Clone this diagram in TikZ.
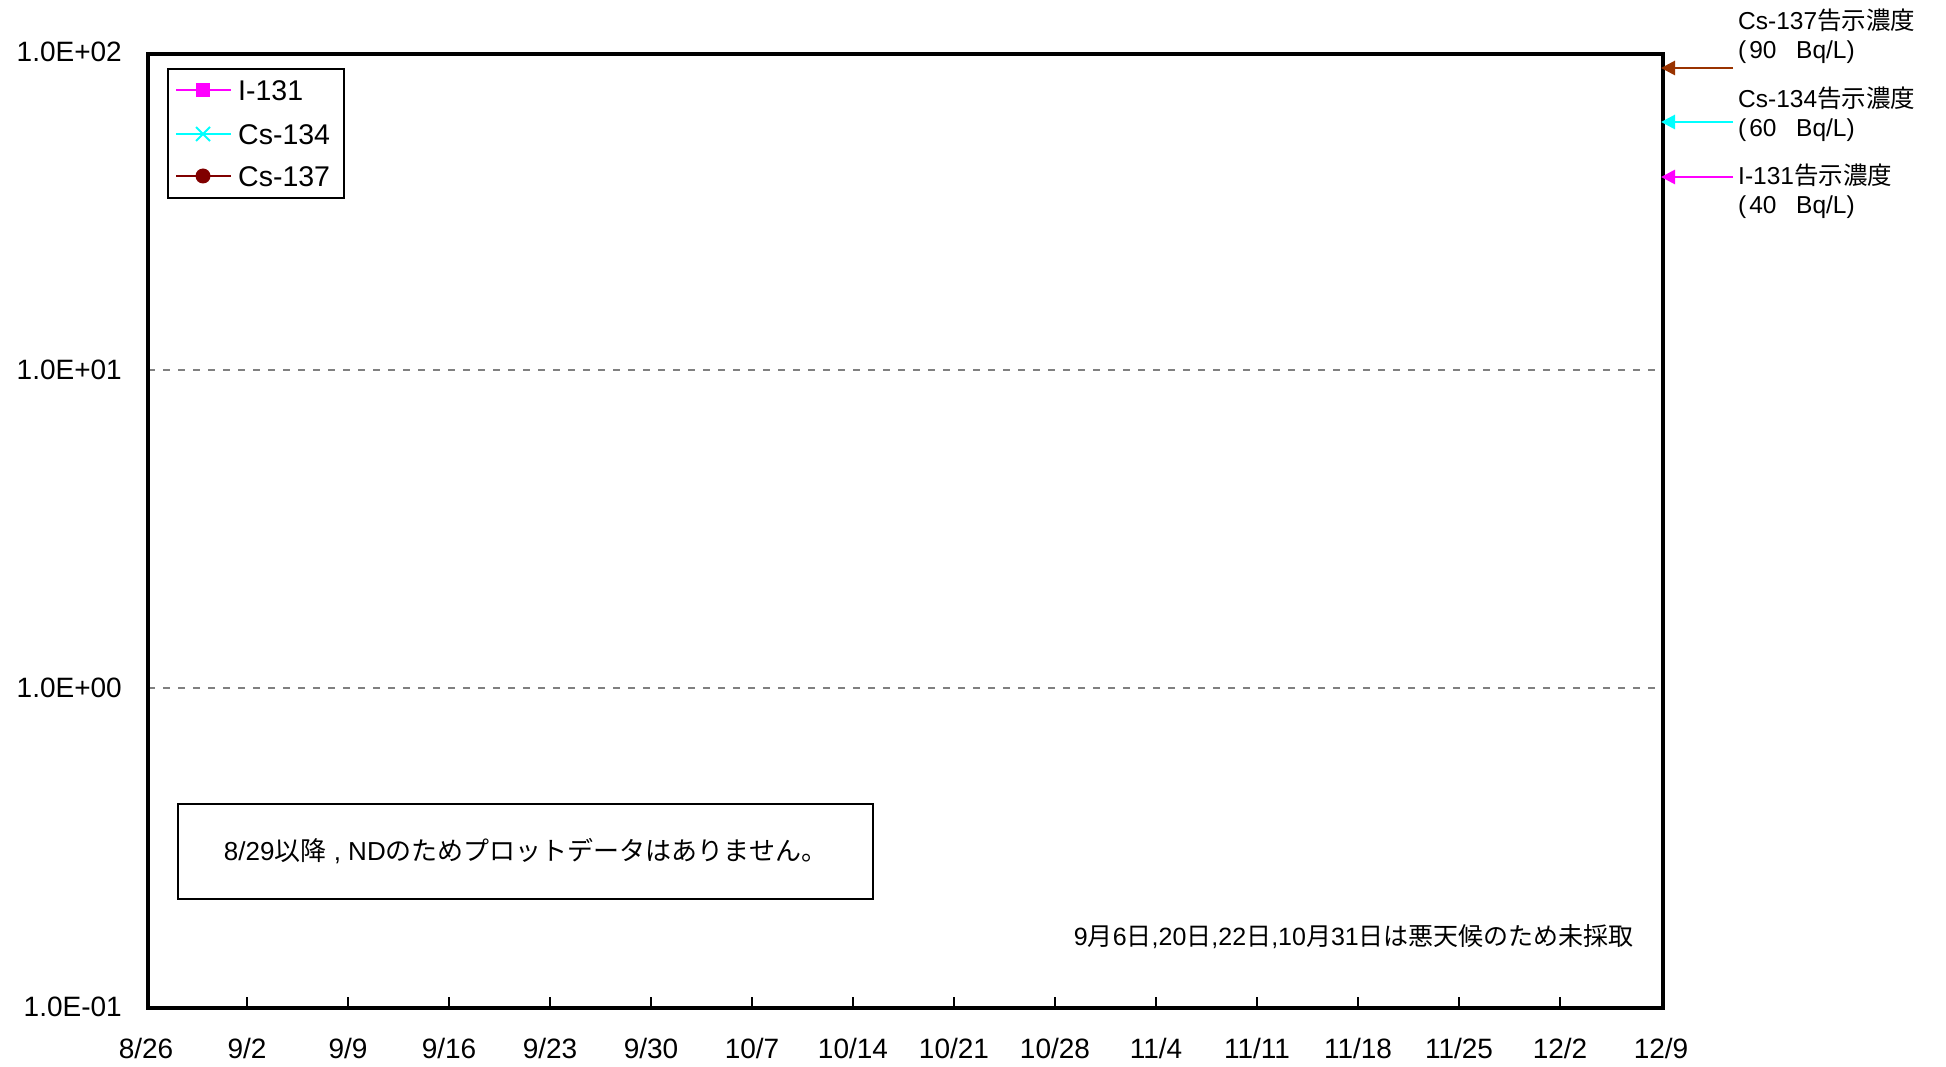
\documentclass[tikz,border=0pt]{standalone}
\usepackage{fontspec}
\setmainfont{Liberation Sans}
\newfontfamily\jp{Noto Sans CJK JP}
\usetikzlibrary{arrows.meta}
\definecolor{cbrown}{RGB}{153,51,0}
\definecolor{cdark}{RGB}{128,0,0}
\definecolor{pmag}{RGB}{255,0,255}
\definecolor{pcyan}{RGB}{0,255,255}
\definecolor{gridgray}{RGB}{128,128,128}
\begin{document}
\begin{tikzpicture}[x=1pt,y=-1pt,
  axislbl/.style={font=\fontsize{28}{30}\selectfont, inner sep=0pt},
  legtext/.style={font=\fontsize{28.5}{30}\selectfont, inner sep=0pt, anchor=west},
  gridline/.style={gridgray, dash pattern=on 7pt off 8pt, line width=1.3pt},
  refarrow/.style={line width=2.8pt, -{Triangle[length=14pt,width=14pt]}},
  annot/.style={font=\fontsize{24.5}{26}\selectfont, anchor=west, inner sep=0pt},
  tickmark/.style={line width=1.2pt},
]
\useasboundingbox (0,0) rectangle (1946,1067);
% grid lines
\draw[gridline] (148,370) -- (1659,370);
\draw[gridline] (148,688) -- (1659,688);
% frame
\node[draw, line width=4pt, minimum width=1515pt, minimum height=954pt,
      anchor=north west, inner sep=0pt] (frame) at (146,52) {};
% x ticks and labels
\foreach \i in {1,...,14} \draw[tickmark] (146+\i*101,1006) -- ++(0,-9);
\foreach \l [count=\i from 0] in {{8/26},{9/2},{9/9},{9/16},{9/23},{9/30},{10/7},{10/14},{10/21},{10/28},{11/4},{11/11},{11/18},{11/25},{12/2},{12/9}}
  \node[axislbl] (xl\i) at (146+\i*101,1048) {\l};
% y labels
\node[axislbl, anchor=east] (y2) at (122,52) {1.0E+02};
\node[axislbl, anchor=east] (y1) at (122,370) {1.0E+01};
\node[axislbl, anchor=east] (y0) at (122,688) {1.0E+00};
\node[axislbl, anchor=east] (ym1) at (122,1007) {1.0E-01};
% legend
\node[draw, line width=2pt, minimum width=176pt, minimum height=129pt,
      anchor=north west, inner sep=0pt] (legend) at (167,68) {};
\draw[pmag, line width=2pt] (176,90) -- (231,90);
\fill[pmag] (196,83) rectangle (210,97);
\node[legtext] (lI) at (238,91) {I-131};
\draw[pcyan, line width=2pt] (176,134) -- (231,134);
\draw[pcyan, line width=2pt] (196,127) -- (210,141) (196,141) -- (210,127);
\node[legtext] (lC4) at (238,135) {Cs-134};
\draw[cdark, line width=2pt] (176,176) -- (231,176);
\fill[cdark] (203,176) circle (7.5);
\node[legtext] (lC7) at (238,177) {Cs-137};
% reference-level annotations
\node[annot] (t137) at (1738,20) {Cs-137{\jp 告示濃度}};
\node[annot] (v137) at (1738,52) {(\kern3pt 90\hspace{0.8em}Bq/L)};
\node[annot] (t134) at (1738,98) {Cs-134{\jp 告示濃度}};
\node[annot] (v134) at (1738,130) {(\kern3pt 60\hspace{0.8em}Bq/L)};
\node[annot] (t131) at (1738,175) {I-131{\jp 告示濃度}};
\node[annot] (v131) at (1738,207) {(\kern3pt 40\hspace{0.8em}Bq/L)};
\coordinate (a137s) at (1733,68);  \coordinate (a137e) at (1661,68);
\coordinate (a134s) at (1733,122); \coordinate (a134e) at (1661,122);
\coordinate (a131s) at (1733,177); \coordinate (a131e) at (1661,177);
\draw[refarrow, cbrown] (a137s) -- (a137e);
\draw[refarrow, pcyan] (a134s) -- (a134e);
\draw[refarrow, pmag] (a131s) -- (a131e);
% notes
\node[draw, line width=1.8pt, minimum width=695pt, minimum height=95pt, inner sep=0pt,
      font=\fontsize{26}{28}\selectfont] (ndbox) at (525.5,851.5)
  {8/29{\jp 以降} , ND{\jp のためプロットデータはありません。}};
\node[font=\fontsize{25}{27}\selectfont, anchor=east, inner sep=0pt] (weather) at (1634,937)
  {9{\jp 月}6{\jp 日},20{\jp 日},22{\jp 日},10{\jp 月}31{\jp 日は悪天候のため未採取}};
\end{tikzpicture}
\end{document}
